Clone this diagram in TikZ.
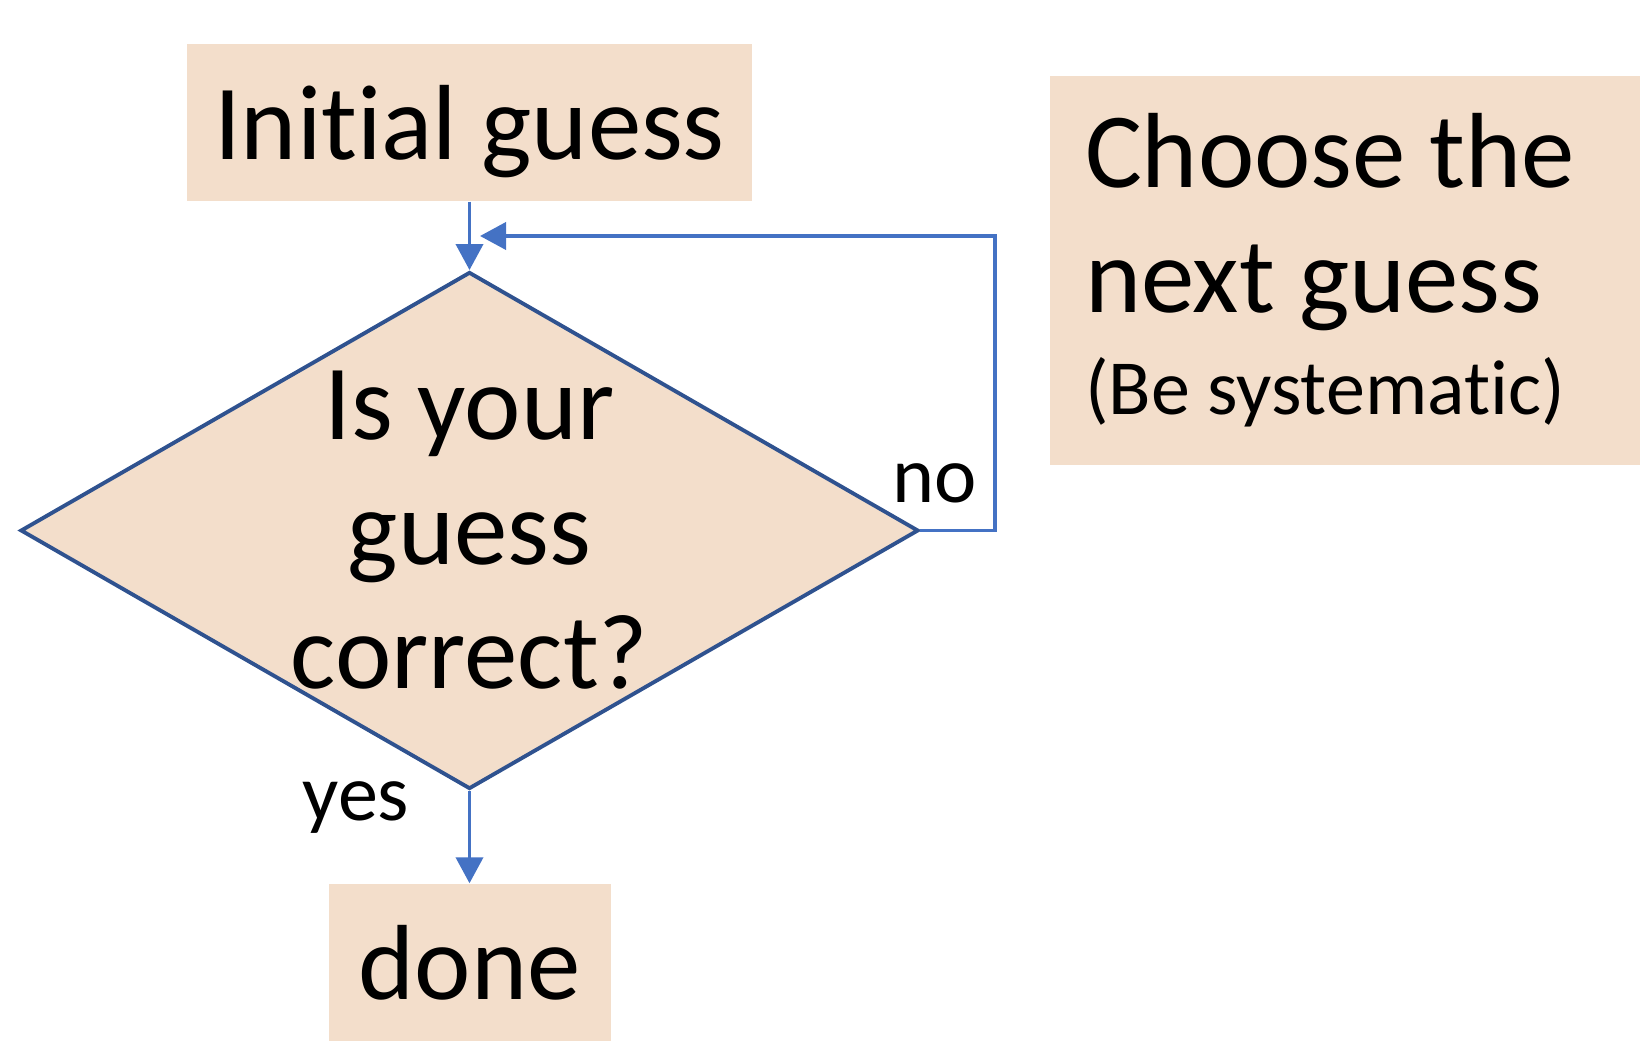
\documentclass[tikz,border=0pt]{standalone}
\usepackage{fontspec}
\setmainfont{Carlito}[Ligatures={NoCommon}]
\usepackage{tikz}
\usetikzlibrary{shapes.geometric, arrows.meta}

\definecolor{peach}{RGB}{243,222,203}
\definecolor{linkblue}{RGB}{68,114,196}
\definecolor{rimblue}{RGB}{47,82,143}

\newcommand{\guessfont}{\fontsize{30.4}{35.4}\selectfont}
\newcommand{\notefont}{\fontsize{22.2}{26}\selectfont}

\tikzset{
    box/.style={rectangle, fill=peach, inner sep=0pt, font=\guessfont},
    decision/.style={diamond, draw=rimblue, line width=1.1pt, fill=peach, inner sep=-1cm, align=center, font=\guessfont},
    lbl/.style={inner sep=0pt, anchor=base, font=\fontsize{22.8}{27}\selectfont},
    link/.style={color=linkblue, line width=1.1pt},
}

\begin{document}
\begin{tikzpicture}[>={Triangle[length=0.26cm, width=0.27cm]}]
    \useasboundingbox (0, 0) rectangle (16.5, -10.54);

    \node[box, minimum width=5.65cm, minimum height=1.57cm, text depth=0pt] at (4.695, -1.225) (init) {Initial guess};
    \node[decision, minimum width=8.98cm, minimum height=5.17cm] at (4.695, -5.305) (test) {Is your\\guess\\correct?};
    \node[box, minimum width=2.82cm, minimum height=1.57cm] at (4.695, -9.625) (done) {done};
    \node[box, minimum width=5.9cm, minimum height=3.89cm, text width=5.2cm, align=flush left] at (13.45, -2.705) (next) {Choose the\\next guess\\[-6.3pt]{\notefont (Be systematic)}};

    \node[lbl] at (9.35, -5.03) (no) {no};
    \node[lbl] at (3.56, -8.21) (yes) {yes};

    \coordinate (turn) at (9.95, -2.36);
    \coordinate (back) at (4.80, -2.36);

    \draw[link, ->] (init) edge (test);
    \draw[link, ->] (test) edge (done);
    \draw[link, ->] (test.east) -| (turn) -- (back);
\end{tikzpicture}
\end{document}
